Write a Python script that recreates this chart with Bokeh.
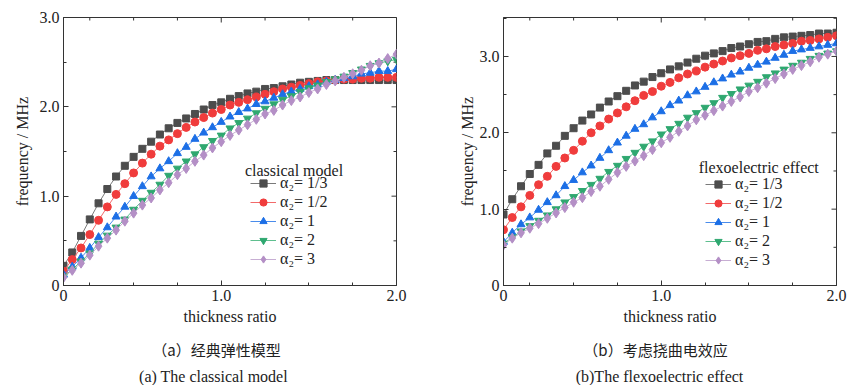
import math
from bokeh.plotting import figure
from bokeh.models import Range1d, FixedTicker, Legend, LegendItem, Label
from bokeh.layouts import column, row
from bokeh.embed import file_html
from bokeh.resources import INLINE
from bokeh.core.properties import value

# ---------------- data ----------------
thickness = [0.10, 0.15, 0.20, 0.25, 0.30, 0.35, 0.40, 0.45, 0.50, 0.55,
             0.60, 0.65, 0.70, 0.75, 0.80, 0.85, 0.90, 0.95, 1.00, 1.05,
             1.10, 1.15, 1.20, 1.25, 1.30, 1.35, 1.40, 1.45, 1.50, 1.55,
             1.60, 1.65, 1.70, 1.75, 1.80, 1.85, 1.90, 1.95, 2.00]

series_labels = ["α₂= 1/3", "α₂= 1/2", "α₂= 1", "α₂= 2", "α₂= 3"]

classical_a13 = [0.22, 0.37, 0.555, 0.74, 0.92, 1.08, 1.22, 1.34, 1.44, 1.53,
                 1.61, 1.69, 1.76, 1.82, 1.87, 1.92, 1.97, 2.02, 2.05, 2.09,
                 2.12, 2.15, 2.17, 2.20, 2.21, 2.23, 2.25, 2.27, 2.28, 2.29,
                 2.30, 2.30, 2.30, 2.30, 2.30, 2.30, 2.30, 2.30, 2.30]
classical_a12 = [0.16, 0.29, 0.42, 0.57, 0.73, 0.88, 1.02, 1.14, 1.26, 1.37,
                 1.47, 1.56, 1.63, 1.70, 1.77, 1.83, 1.88, 1.93, 1.97, 2.02,
                 2.05, 2.08, 2.11, 2.14, 2.17, 2.20, 2.22, 2.24, 2.26, 2.28,
                 2.29, 2.30, 2.31, 2.31, 2.32, 2.32, 2.33, 2.33, 2.33]
classical_a1 = [0.12, 0.21, 0.31, 0.42, 0.54, 0.65, 0.77, 0.88, 1.00, 1.11,
                1.22, 1.31, 1.39, 1.48, 1.55, 1.64, 1.71, 1.77, 1.83, 1.89,
                1.94, 1.98, 2.03, 2.06, 2.10, 2.14, 2.17, 2.20, 2.23, 2.25,
                2.28, 2.30, 2.32, 2.34, 2.37, 2.38, 2.40, 2.40, 2.42]
classical_a2 = [0.10, 0.18, 0.27, 0.36, 0.47, 0.56, 0.65, 0.74, 0.85, 0.95,
                1.04, 1.13, 1.23, 1.31, 1.39, 1.47, 1.55, 1.62, 1.68, 1.76,
                1.82, 1.87, 1.93, 1.98, 2.03, 2.08, 2.12, 2.17, 2.21, 2.24,
                2.28, 2.31, 2.34, 2.38, 2.42, 2.46, 2.49, 2.51, 2.53]
classical_a3 = [0.09, 0.17, 0.25, 0.34, 0.44, 0.53, 0.62, 0.72, 0.81, 0.90,
                0.98, 1.07, 1.15, 1.24, 1.31, 1.39, 1.46, 1.54, 1.61, 1.68,
                1.74, 1.80, 1.86, 1.92, 1.96, 2.02, 2.07, 2.11, 2.16, 2.20,
                2.25, 2.29, 2.33, 2.37, 2.41, 2.46, 2.49, 2.54, 2.59]

flexo_a13 = [0.93, 1.13, 1.30, 1.46, 1.58, 1.73, 1.83, 1.96, 2.06, 2.16,
             2.24, 2.33, 2.41, 2.48, 2.55, 2.62, 2.67, 2.73, 2.78, 2.83,
             2.87, 2.92, 2.97, 3.01, 3.04, 3.07, 3.11, 3.13, 3.16, 3.19,
             3.20, 3.23, 3.25, 3.26, 3.27, 3.28, 3.30, 3.30, 3.31]
flexo_a12 = [0.73, 0.89, 1.03, 1.18, 1.32, 1.43, 1.56, 1.67, 1.77, 1.89,
             2.00, 2.09, 2.18, 2.26, 2.34, 2.42, 2.49, 2.54, 2.61, 2.66,
             2.72, 2.77, 2.81, 2.86, 2.90, 2.94, 2.98, 3.01, 3.04, 3.08,
             3.10, 3.13, 3.15, 3.17, 3.20, 3.21, 3.23, 3.25, 3.27]
flexo_a1 = [0.57, 0.69, 0.80, 0.89, 0.99, 1.09, 1.18, 1.30, 1.38, 1.48,
            1.57, 1.67, 1.77, 1.87, 1.96, 2.05, 2.11, 2.20, 2.28, 2.36,
            2.42, 2.49, 2.54, 2.60, 2.66, 2.71, 2.76, 2.80, 2.85, 2.89,
            2.93, 2.98, 3.02, 3.07, 3.09, 3.11, 3.13, 3.15, 3.17]
flexo_a2 = [0.55, 0.63, 0.71, 0.78, 0.85, 0.92, 1.00, 1.09, 1.16, 1.24,
            1.32, 1.40, 1.49, 1.57, 1.66, 1.74, 1.82, 1.89, 1.98, 2.05,
            2.12, 2.20, 2.26, 2.33, 2.39, 2.46, 2.51, 2.57, 2.62, 2.67,
            2.73, 2.78, 2.83, 2.88, 2.92, 2.97, 3.01, 3.04, 3.07]
flexo_a3 = [0.53, 0.62, 0.69, 0.75, 0.81, 0.88, 0.95, 1.02, 1.09, 1.15,
            1.23, 1.30, 1.39, 1.48, 1.56, 1.63, 1.70, 1.78, 1.87, 1.94,
            2.02, 2.09, 2.17, 2.23, 2.29, 2.35, 2.41, 2.47, 2.54, 2.59,
            2.65, 2.71, 2.77, 2.83, 2.88, 2.93, 2.99, 3.03, 3.07]

x_major_ticks = [0.1, 1.0, 2.0]
x_tick_labels = {0.1: "0", 1.0: "1.0", 2.0: "2.0"}
x_minor_ticks = [0.25, 0.5, 0.75, 1.25, 1.5, 1.75]
y_major_ticks = [0, 1, 2, 3]
y_tick_labels = {0: "0", 1: "1.0", 2: "2.0", 3: "3.0"}

legend_titles = ["classical model", "flexoelectric effect"]
captions_zh = ["（a）经典弹性模型", "（b）考虑挠曲电效应"]
captions_en = ["(a) The classical model", "(b)The flexoelectric effect"]

# ---------------- style ----------------
FONT = "Liberation Serif"
CJK = "Noto Sans CJK SC"
FS = "16px"
AX = "#333333"
TXT = "#222222"
markers = ["square", "circle", "triangle", "inverted_triangle", "diamond"]
colors = ["#4d4d4d", "#f03c3c", "#1c6fe6", "#2fa870", "#b48fc6"]
line_colors = ["#7a7a7a", "#f26a6a", "#4a8ceb", "#5fbf8f", "#c7aed3"]
sizes = [7, 8, 8, 8, 10]
MAJOR_IN = 5
MINOR_IN = 3


def style_axis(ax, ticks, minor, labels):
    ax.ticker = FixedTicker(ticks=ticks, minor_ticks=minor)
    ax.axis_line_color = AX
    ax.major_tick_line_color = AX
    ax.minor_tick_line_color = AX
    ax.major_tick_in = MAJOR_IN
    ax.major_tick_out = 0
    ax.minor_tick_in = MINOR_IN
    ax.minor_tick_out = 0
    ax.major_label_overrides = labels
    ax.major_label_text_font = FONT
    ax.major_label_text_font_size = FS
    ax.major_label_text_color = TXT
    ax.major_label_standoff = 4
    ax.axis_label_text_font = FONT
    ax.axis_label_text_font_size = FS
    ax.axis_label_text_font_style = "normal"
    ax.axis_label_text_color = TXT


def mirror_ticks(p, ymax, y_minor):
    # inward tick marks on the top and right frame edges (clipped to the frame)
    p.scatter(x=x_major_ticks, y=[ymax] * len(x_major_ticks), marker="dash", angle=math.pi / 2,
              size=2 * MAJOR_IN, line_color=AX, line_width=1)
    p.scatter(x=x_minor_ticks, y=[ymax] * len(x_minor_ticks), marker="dash", angle=math.pi / 2,
              size=2 * MINOR_IN, line_color=AX, line_width=1)
    p.scatter(x=[2.0] * len(y_major_ticks), y=y_major_ticks, marker="dash",
              size=2 * MAJOR_IN, line_color=AX, line_width=1)
    p.scatter(x=[2.0] * len(y_minor), y=y_minor, marker="dash",
              size=2 * MINOR_IN, line_color=AX, line_width=1)


def make_panel(series, ymax, y_minor, width, mbl, mbr, mbt, mbb, legend_title,
               legend_loc, title_pos, ylab_standoff):
    p = figure(width=width, height=335, output_backend="svg", toolbar_location=None,
               x_range=Range1d(0.1, 2.0), y_range=Range1d(0, ymax),
               min_border_left=mbl, min_border_right=mbr, min_border_top=mbt, min_border_bottom=mbb)
    p.xgrid.visible = False
    p.ygrid.visible = False
    p.outline_line_color = AX
    p.background_fill_color = "white"
    p.border_fill_color = "white"

    style_axis(p.xaxis[0], x_major_ticks, x_minor_ticks, x_tick_labels)
    style_axis(p.yaxis[0], y_major_ticks, y_minor, y_tick_labels)
    p.xaxis[0].axis_label = "thickness ratio"
    p.xaxis[0].axis_label_standoff = 4
    p.yaxis[0].axis_label = "frequency / MHz"
    p.yaxis[0].axis_label_standoff = ylab_standoff

    mirror_ticks(p, ymax, y_minor)

    items = []
    for ys, lab, mk, c, lc, s in zip(series, series_labels, markers, colors, line_colors, sizes):
        ln = p.line(thickness, ys, line_color=lc, line_width=1)
        sc = p.scatter(thickness, ys, marker=mk, size=s, fill_color=c, line_color=c)
        items.append(LegendItem(label=lab, renderers=[ln, sc]))

    leg = Legend(items=items, location=legend_loc,
                 label_text_font=FONT, label_text_font_size=FS, label_text_color=TXT,
                 glyph_width=26, glyph_height=18, label_height=18, spacing=1,
                 label_standoff=4, padding=0, margin=0,
                 background_fill_alpha=0, border_line_alpha=0)
    p.add_layout(leg)
    p.add_layout(Label(x=title_pos[0], y=title_pos[1], text=legend_title,
                       text_font=FONT, text_font_size=FS, text_color=TXT,
                       text_align="left", text_baseline="middle"))
    return p


p1 = make_panel([classical_a13, classical_a12, classical_a1, classical_a2, classical_a3],
                3.0, [0.5, 1.5, 2.5], 440, 63, 44, 17, 50, legend_titles[0],
                (187, 17), (1.135, 1.29), 6)
p2 = make_panel([flexo_a13, flexo_a12, flexo_a1, flexo_a2, flexo_a3],
                3.51, [0.5, 1.5, 2.5, 3.5], 409, 63, 13, 16, 50, legend_titles[1],
                (202, 16), (1.214, 1.55), 1)

cap = figure(width=849, height=50, output_backend="svg", toolbar_location=None,
             x_range=Range1d(0, 849), y_range=Range1d(0, 50), min_border=0)
cap.axis.visible = False
cap.xgrid.visible = False
cap.ygrid.visible = False
cap.outline_line_color = None
cap.text(x=[216, 655], y=[36, 36], text=captions_zh, text_font=value(CJK),
         text_font_size="15px", text_align="center", text_baseline="middle", text_color=TXT)
cap.text(x=[213, 659], y=[9, 9], text=captions_en, text_font=value(FONT),
         text_font_size=FS, text_align="center", text_baseline="middle", text_color=TXT)

layout = column(row(p1, p2, spacing=0), cap, spacing=0)

with open("out.html", "w") as f:
    f.write(file_html(layout, INLINE))
